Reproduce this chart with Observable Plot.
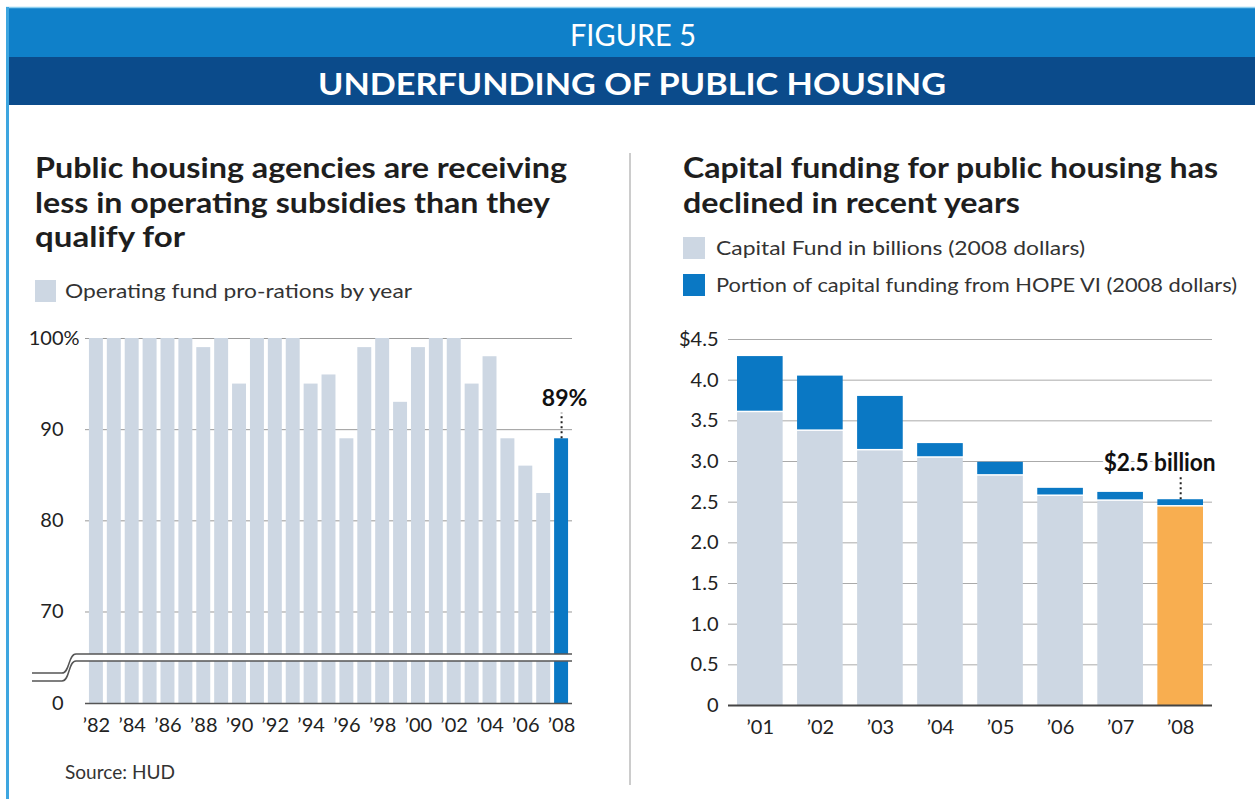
<!DOCTYPE html>
<html>
<head>
<meta charset="utf-8">
<script src="https://cdn.jsdelivr.net/npm/d3@7"></script>
<script src="https://cdn.jsdelivr.net/npm/@observablehq/plot@0.6"></script>
<style>
  html, body { margin: 0; padding: 0; background: #fff; }
  #page { position: relative; width: 1255px; height: 799px; overflow: hidden; }
  #bg { position: absolute; left: 0; top: 0; }
  #left { position: absolute; left: 0; top: 320px; }
  #right { position: absolute; left: 640px; top: 320px; }
</style>
</head>
<body>
<div id="page">
  <svg id="bg" width="1255" height="799"></svg>
  <div id="left"></div>
  <div id="right"></div>
</div>
<script>
// ---------- data ----------
const opYears = [1982,1983,1984,1985,1986,1987,1988,1989,1990,1991,1992,1993,1994,1995,1996,1997,1998,1999,2000,2001,2002,2003,2004,2005,2006,2007,2008];
const opRates = [100,100,100,100,100,100,99,100,95,100,100,100,95,96,89,99,100,93,99,100,100,95,98,89,86,83,89];
const opYTicks = [0,70,80,90,100];
const opYTickLabels = ["0","70","80","90","100"];
const opGrid = [70,80,90,100];
const opXTicks = [1982,1984,1986,1988,1990,1992,1994,1996,1998,2000,2002,2004,2006,2008];
const opLabel = "89%";

const capYears = [2001,2002,2003,2004,2005,2006,2007,2008];
const capFund  = [3.60,3.37,3.13,3.04,2.82,2.57,2.51,2.44];
const hopeVI   = [0.69,0.68,0.67,0.18,0.17,0.10,0.11,0.09];
const capYTicks = [0,0.5,1.0,1.5,2.0,2.5,3.0,3.5,4.0,4.5];
const capYTickLabels = ["0","0.5","1.0","1.5","2.0","2.5","3.0","3.5","4.0","$4.5"];
const capLabel = "$2.5 billion";

const figureNo = "FIGURE 5";
const figureTitle = "UNDERFUNDING OF PUBLIC HOUSING";
const leftTitle = ["Public housing agencies are receiving", "less in operating subsidies than they", "qualify for"];
const rightTitle = ["Capital funding for public housing has", "declined in recent years"];
const leftLegend = "Operating fund pro-rations by year";
const rightLegend = ["Capital Fund in billions (2008 dollars)", "Portion of capital funding from HOPE VI (2008 dollars)"];
const sourceText = "Source: HUD";

// ---------- colours / fonts ----------
const gray = "#cdd7e3", blue = "#0a78c4", orange = "#f8ae50";
const band1 = "#0f80c9", band2 = "#0b4b8b";
const lato = "Lato, 'Open Sans', sans-serif";

const yr = d => "\u2019" + String(d).slice(2);

// ---------- background: bands, titles, legends ----------
const bg = d3.select("#bg");
bg.append("rect").attr("x", 6).attr("y", 8).attr("width", 1249).attr("height", 49).attr("fill", band1);
bg.append("rect").attr("x", 6).attr("y", 57).attr("width", 1249).attr("height", 48).attr("fill", band2);
bg.append("line").attr("x1", 6).attr("x2", 1255).attr("y1", 7.5).attr("y2", 7.5).attr("stroke", "#8fd0f0").attr("stroke-width", 1.5);
bg.append("line").attr("x1", 7.5).attr("x2", 7.5).attr("y1", 7).attr("y2", 799).attr("stroke", "#3ea6e0").attr("stroke-width", 3);

function txt(s, x, y, size, weight, len, fill, anchor) {
  const t = bg.append("text").attr("x", x).attr("y", y)
    .attr("font-family", lato).attr("font-size", size).attr("font-weight", weight)
    .attr("fill", fill).attr("text-anchor", anchor || "start").text(s);
  if (len) t.attr("textLength", len).attr("lengthAdjust", "spacingAndGlyphs");
  return t;
}
txt(figureNo, 633, 46, 30, 400, 126, "#fff", "middle");
txt(figureTitle, 632, 95, 31, 700, 628, "#fff", "middle");

const lw = [532, 515, 150];
leftTitle.forEach((s, i) => txt(s, 35, 178 + i * 34.5, 29, 700, lw[i], "#1e1e1e"));
const rw = [535, 337];
rightTitle.forEach((s, i) => txt(s, 683, 178 + i * 34.5, 29, 700, rw[i], "#1e1e1e"));

bg.append("rect").attr("x", 35).attr("y", 280).attr("width", 21).attr("height", 22).attr("fill", gray);
txt(leftLegend, 65, 298, 20, 400, 347, "#333");
bg.append("rect").attr("x", 683).attr("y", 237).attr("width", 22).attr("height", 22).attr("fill", gray);
txt(rightLegend[0], 716, 255, 20, 400, 369, "#333");
bg.append("rect").attr("x", 683).attr("y", 274).attr("width", 22).attr("height", 22).attr("fill", blue);
txt(rightLegend[1], 716, 292, 20, 400, 521, "#333");

bg.append("line").attr("x1", 630).attr("x2", 630).attr("y1", 153).attr("y2", 785).attr("stroke", "#bbb").attr("stroke-width", 1.5);
txt(sourceText, 65, 779, 19, 400, 110, "#333");

// ---------- left chart (broken axis: 0–65 compressed) ----------
const squeeze = 0.0775;
const brk = v => v >= 65 ? v : 65 - (65 - v) * squeeze;
const opData = opYears.map((year, i) => ({year, rate: opRates[i]}));
const last = opData.filter(d => d.year === 2008);
const yTicksT = opYTicks.map(brk);

const left = Plot.plot({
  width: 620, height: 430,
  marginLeft: 85, marginRight: 48, marginTop: 18, marginBottom: 47,
  style: {fontFamily: lato, fontSize: "20px", color: "#222", background: "transparent"},
  x: {type: "band", domain: opYears, paddingInner: 0.22, paddingOuter: 0.22, round: false, label: null},
  y: {domain: [brk(0), 100], label: null},
  color: {type: "identity"},
  marks: [
    Plot.ruleY(opGrid.map(brk), {stroke: "#999", strokeWidth: 1}),
    Plot.barY(opData, {x: "year", y1: brk(0), y2: d => brk(d.rate), fill: d => d.year === 2008 ? blue : gray}),
    Plot.ruleY([brk(0)], {stroke: "#555", strokeWidth: 1.5}),
    Plot.axisY({ticks: yTicksT, tickSize: 0, tickPadding: 22, tickFormat: d => opYTickLabels[yTicksT.indexOf(d)], fontSize: 20, label: null}),
    Plot.text(["%"], {y: [brk(100)], frameAnchor: "left", dx: -22, textAnchor: "start", fontSize: 20, fill: "#222"}),
    Plot.axisX({ticks: opXTicks, tickSize: 0, tickPadding: 14, tickFormat: yr, fontSize: 20, label: null}),
    Plot.ruleX(last, {x: "year", y1: d => brk(d.rate), y2: d => brk(d.rate) + 2.8, stroke: "#222", strokeWidth: 2, strokeDasharray: "2,3"}),
    Plot.text(last, {x: "year", y: d => brk(d.rate), text: () => opLabel, dy: -40, dx: 3, fontSize: 23, fontWeight: "bold", fill: "#111", stroke: "white", strokeWidth: 5})
  ]
});
document.getElementById("left").appendChild(left);

// axis break decoration
{
  const ys = left.scale("y");
  const yb = ys.apply(brk(65));
  const s = d3.select(left);
  s.append("rect").attr("x", 85).attr("y", yb - 3).attr("width", 487).attr("height", 7).attr("fill", "#fff");
  const mk = (off1, off2) => `M32,${yb + off1} H62 C70,${yb + off1} 68,${yb + off2} 76,${yb + off2} H572`;
  s.append("path").attr("d", mk(16, -3)).attr("fill", "none").attr("stroke", "#555").attr("stroke-width", 1.5);
  s.append("path").attr("d", mk(24, 4)).attr("fill", "none").attr("stroke", "#555").attr("stroke-width", 1.5);
}

// ---------- right chart ----------
const capData = capYears.map((year, i) => ({year, fund: capFund[i], hope: hopeVI[i], total: capFund[i] + hopeVI[i]}));
const capLast = capData.filter(d => d.year === 2008);

const right = Plot.plot({
  width: 615, height: 430,
  marginLeft: 88, marginRight: 43, marginTop: 19, marginBottom: 45,
  style: {fontFamily: lato, fontSize: "20px", color: "#222", background: "transparent"},
  x: {type: "band", domain: capYears, paddingInner: 0.24, paddingOuter: 0.15, round: false, label: null},
  y: {domain: [0, 4.5], label: null},
  color: {type: "identity"},
  marks: [
    Plot.ruleY(capYTicks.filter(d => d > 0), {stroke: "#aaa", strokeWidth: 1}),
    Plot.barY(capData, {x: "year", y1: 0, y2: "fund", fill: d => d.year === 2008 ? orange : gray}),
    Plot.barY(capData, {x: "year", y1: "fund", y2: "total", fill: blue, insetBottom: 1.5}),
    Plot.ruleY([0], {stroke: "#444", strokeWidth: 2}),
    Plot.axisY({ticks: capYTicks, tickSize: 0, tickPadding: 10, tickFormat: d => capYTickLabels[capYTicks.indexOf(d)], fontSize: 20, label: null}),
    Plot.axisX({tickSize: 0, tickPadding: 14, tickFormat: yr, fontSize: 20, label: null}),
    Plot.ruleX(capLast, {x: "year", y1: "total", y2: d => d.total + 0.27, stroke: "#222", strokeWidth: 2, strokeDasharray: "2,3"}),
    Plot.text(capLast, {x: "year", y: "total", text: () => capLabel, dy: -36, dx: 35, textAnchor: "end", fontSize: 24, fontWeight: "bold", fill: "#111", stroke: "white", strokeWidth: 6, className: "cap-label"})
  ]
});
document.getElementById("right").appendChild(right);
d3.select(right).selectAll(".cap-label text").attr("textLength", 112).attr("lengthAdjust", "spacingAndGlyphs");
</script>
</body>
</html>
